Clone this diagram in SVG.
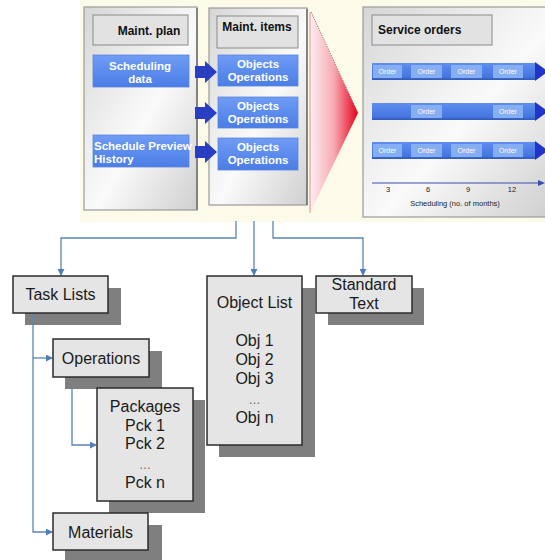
<svg xmlns="http://www.w3.org/2000/svg" width="545" height="560" viewBox="0 0 545 560">
<defs>
<linearGradient id="panelG" x1="0" y1="0" x2="1" y2="1">
<stop offset="0" stop-color="#d6d6d6"/>
<stop offset="0.45" stop-color="#f4f4f4"/>
<stop offset="0.55" stop-color="#fafafa"/>
<stop offset="1" stop-color="#cfcfcf"/>
</linearGradient>
<linearGradient id="redG" x1="310" y1="0" x2="358" y2="0" gradientUnits="userSpaceOnUse">
<stop offset="0" stop-color="#fdeef0"/>
<stop offset="0.5" stop-color="#f7a8b2"/>
<stop offset="1" stop-color="#e6001a"/>
</linearGradient>
<linearGradient id="blueG" x1="0" y1="0" x2="0" y2="1">
<stop offset="0" stop-color="#6f9cf4"/>
<stop offset="1" stop-color="#4a7de6"/>
</linearGradient>
<linearGradient id="barG" x1="0" y1="0" x2="0" y2="1">
<stop offset="0" stop-color="#5f8ef0"/>
<stop offset="0.8" stop-color="#4677e0"/>
<stop offset="1" stop-color="#2f58b8"/>
</linearGradient>
<marker id="ah" viewBox="0 0 8 8" refX="7" refY="4" markerWidth="7" markerHeight="7" markerUnits="userSpaceOnUse" orient="auto">
<path d="M0,0 L8,4 L0,8 Z" fill="#4f7db5"/>
</marker>
<style>
.panel{fill:url(#panelG);stroke:#9a9a9a;stroke-width:1.2}
.title{fill:#e2e2e2;stroke:#8a8a8a;stroke-width:1}
.ttl{font-family:"Liberation Sans",Arial,sans-serif;font-weight:bold;font-size:12px;fill:#111}
.bbox{fill:url(#blueG);stroke:#5a85de;stroke-width:0.8}
.btxt{font-family:"Liberation Sans",Arial,sans-serif;font-weight:bold;font-size:11.5px;fill:#fff}
.otxt{font-family:"Liberation Sans",Arial,sans-serif;font-weight:bold;font-size:11.5px;fill:#fff;text-anchor:middle}
.arr{fill:#2a3ec4}
.bar{fill:url(#barG)}
.cell{fill:#86aef2}
.ctxt{font-family:"Liberation Sans",Arial,sans-serif;font-size:7px;fill:#fff;text-anchor:middle}
.tip{fill:#2233c8}
.small{font-family:"Liberation Sans",Arial,sans-serif;font-size:7.5px;fill:#222;text-anchor:middle}
.shadow{fill:#7f7f7f}
.box{fill:#e5e5e5;stroke:#2b2b2b;stroke-width:1.5}
.lbl{font-family:"Liberation Sans",Arial,sans-serif;font-size:16px;fill:#1a1a1a;text-anchor:middle}
.dots{font-family:"Liberation Sans",Arial,sans-serif;font-size:12px;fill:#666;text-anchor:middle}
.con{fill:none;stroke:#5a85b5;stroke-width:1.3}
</style>
</defs>
<rect x="0" y="0" width="545" height="560" fill="#ffffff"/>
<rect x="80" y="0" width="465" height="222" fill="#fcfbea"/>

<g id="maint-plan">
<rect class="panel" x="84" y="7" width="113" height="203"/>
<line x1="197" y1="8" x2="197" y2="210" stroke="#6f6f6f" stroke-width="1.5"/>
<rect class="title" x="93" y="15" width="95" height="30"/>
<text class="ttl" x="149" y="35" text-anchor="middle">Maint. plan</text>
<rect class="bbox" x="93" y="55" width="96" height="32"/>
<text class="btxt" x="140" y="70" text-anchor="middle">Scheduling</text>
<text class="btxt" x="140" y="83" text-anchor="middle">data</text>
<rect class="bbox" x="93" y="135" width="96" height="32"/>
<text class="btxt" x="94" y="150">Schedule Preview</text>
<text class="btxt" x="94" y="163">History</text>
</g>

<g id="maint-items">
<rect class="panel" x="209" y="8" width="98" height="197"/>
<line x1="307" y1="9" x2="307" y2="205" stroke="#6f6f6f" stroke-width="1.5"/>
<rect class="title" x="217" y="16" width="81" height="32"/>
<text class="ttl" x="257" y="31" text-anchor="middle">Maint. items</text>
<rect class="bbox" x="218" y="55" width="80" height="31"/>
<text class="otxt" x="258" y="68">Objects</text>
<text class="otxt" x="258" y="81">Operations</text>
<rect class="bbox" x="218" y="97" width="80" height="31"/>
<text class="otxt" x="258" y="110">Objects</text>
<text class="otxt" x="258" y="123">Operations</text>
<rect class="bbox" x="218" y="138" width="80" height="32"/>
<text class="otxt" x="258" y="151">Objects</text>
<text class="otxt" x="258" y="164">Operations</text>
</g>

<g id="plan-arrows">
<path class="arr" d="M195,66 L205,66 L205,61 L217,72 L205,83 L205,78 L195,78 Z"/>
<path class="arr" d="M195,107 L205,107 L205,102 L217,113 L205,124 L205,119 L195,119 Z"/>
<path class="arr" d="M195,146 L205,146 L205,141 L217,152 L205,163 L205,158 L195,158 Z"/>
</g>

<g id="red-arrow">
<polygon points="310,12 358,113 310,213" fill="url(#redG)"/>
<line x1="311" y1="12" x2="358" y2="113" stroke="#a04050" stroke-width="0.8" stroke-dasharray="1.5,1"/>
<line x1="310" y1="12" x2="310" y2="213" stroke="#c08088" stroke-width="0.8"/>
</g>

<g id="service-orders">
<rect class="panel" x="363" y="7" width="186" height="210"/>
<rect class="title" x="372" y="15" width="120" height="30"/>
<text class="ttl" x="378" y="34">Service orders</text>
<rect class="bar" x="372" y="63" width="163" height="17"/>
<polygon class="tip" points="535,62 548,71.5 535,81"/>
<rect class="cell" x="373" y="65" width="29" height="13"/>
<rect class="cell" x="411" y="65" width="31" height="13"/>
<rect class="cell" x="451" y="65" width="31" height="13"/>
<rect class="cell" x="493" y="65" width="30" height="13"/>
<text class="ctxt" x="387.5" y="74">Order</text>
<text class="ctxt" x="426.5" y="74">Order</text>
<text class="ctxt" x="466.5" y="74">Order</text>
<text class="ctxt" x="508" y="74">Order</text>
<rect class="bar" x="372" y="103" width="163" height="17"/>
<polygon class="tip" points="535,102 548,111.5 535,121"/>
<rect class="cell" x="411" y="105" width="31" height="13"/>
<rect class="cell" x="493" y="105" width="30" height="13"/>
<text class="ctxt" x="426.5" y="114">Order</text>
<text class="ctxt" x="508" y="114">Order</text>
<rect class="bar" x="372" y="142" width="163" height="17"/>
<polygon class="tip" points="535,141 548,150.5 535,160"/>
<rect class="cell" x="373" y="144" width="29" height="13"/>
<rect class="cell" x="411" y="144" width="31" height="13"/>
<rect class="cell" x="451" y="144" width="31" height="13"/>
<rect class="cell" x="493" y="144" width="30" height="13"/>
<text class="ctxt" x="387.5" y="153">Order</text>
<text class="ctxt" x="426.5" y="153">Order</text>
<text class="ctxt" x="466.5" y="153">Order</text>
<text class="ctxt" x="508" y="153">Order</text>
<line x1="372" y1="183" x2="540" y2="183" stroke="#3a4cb0" stroke-width="1.2"/>
<polygon points="538,180 545,183 538,186" fill="#3a4cb0"/>
<text class="small" x="388" y="192">3</text>
<text class="small" x="428" y="192">6</text>
<text class="small" x="468" y="192">9</text>
<text class="small" x="512" y="192">12</text>
<text class="small" x="455" y="206">Scheduling (no. of months)</text>
</g>

<g id="shadows">
<rect class="shadow" x="25" y="288" width="96" height="37"/>
<rect class="shadow" x="219" y="288" width="96" height="169"/>
<rect class="shadow" x="328" y="288" width="96" height="37"/>
<rect class="shadow" x="65" y="351" width="97" height="38"/>
<rect class="shadow" x="109" y="400" width="96" height="113"/>
<rect class="shadow" x="65" y="525" width="97" height="35"/>
</g>

<g id="connectors">
<path class="con" d="M236,221 V238 H61 V275" marker-end="url(#ah)"/>
<path class="con" d="M254,221 V275" marker-end="url(#ah)"/>
<path class="con" d="M273,221 V238 H363 V275" marker-end="url(#ah)"/>
<path class="con" d="M33,314 V532 H52" marker-end="url(#ah)"/>
<path class="con" d="M33,358 H52" marker-end="url(#ah)"/>
<path class="con" d="M72,389 V445 H96" marker-end="url(#ah)"/>
</g>

<g id="task-lists">
<rect class="box" x="13" y="276" width="95" height="37"/>
<text class="lbl" x="60.5" y="300">Task Lists</text>
</g>

<g id="object-list">
<rect class="box" x="207" y="276" width="95" height="169"/>
<text class="lbl" x="254.5" y="308">Object List</text>
<text class="lbl" x="254.5" y="346">Obj 1</text>
<text class="lbl" x="254.5" y="365">Obj 2</text>
<text class="lbl" x="254.5" y="384">Obj 3</text>
<text class="dots" x="254.5" y="404">…</text>
<text class="lbl" x="254.5" y="423">Obj n</text>
</g>

<g id="standard-text">
<rect class="box" x="316" y="276" width="96" height="37"/>
<text class="lbl" x="364" y="290">Standard</text>
<text class="lbl" x="364" y="309">Text</text>
</g>

<g id="operations">
<rect class="box" x="53" y="339" width="96" height="38"/>
<text class="lbl" x="101" y="364">Operations</text>
</g>

<g id="packages">
<rect class="box" x="97" y="388" width="96" height="113"/>
<text class="lbl" x="145" y="412">Packages</text>
<text class="lbl" x="145" y="431">Pck 1</text>
<text class="lbl" x="145" y="449">Pck 2</text>
<text class="dots" x="145" y="469">…</text>
<text class="lbl" x="145" y="488">Pck n</text>
</g>

<g id="materials">
<rect class="box" x="53" y="513" width="95" height="37"/>
<text class="lbl" x="100.5" y="538">Materials</text>
</g>
</svg>
